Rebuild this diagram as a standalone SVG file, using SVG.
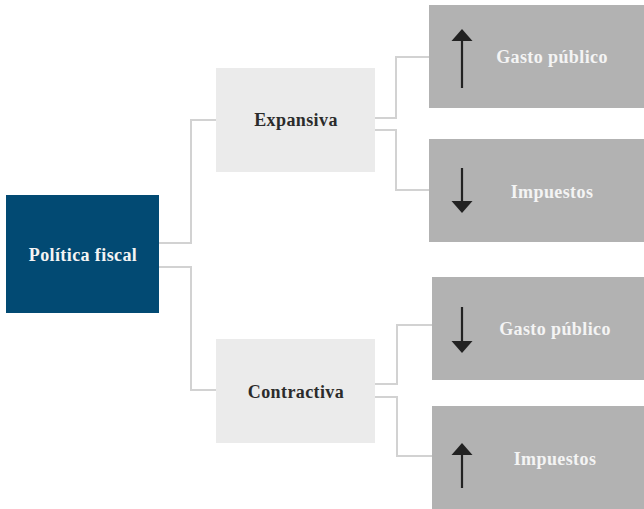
<svg xmlns="http://www.w3.org/2000/svg" width="644" height="509" viewBox="0 0 644 509">
<defs>
<style>
.t{font-family:"Liberation Serif","Times New Roman",serif;font-weight:bold;font-size:18px;letter-spacing:0.4px;text-anchor:middle}
.root{fill:#024a73}
.mid{fill:#ebebeb}
.leaf{fill:#b2b2b2}
.dark{fill:#2b2b2b}
.light{fill:#f4f4f4}
.conn{fill:none;stroke:#d2d2d2;stroke-width:2}
.arr{stroke:#222;stroke-width:2.2;fill:none}
.head{fill:#222}
</style>
</defs>
<rect width="644" height="509" fill="#fff"/>
<g id="connectors">
<polyline class="conn" points="159,243 191,243 191,120 216,120"/>
<polyline class="conn" points="159,267 191,267 191,390 216,390"/>
<polyline class="conn" points="375,118 396,118 396,57 429,57"/>
<polyline class="conn" points="375,130 396,130 396,190 429,190"/>
<polyline class="conn" points="375,384 397,384 397,325 432,325"/>
<polyline class="conn" points="375,397 397,397 397,456 432,456"/>
</g>
<g id="politica-fiscal">
<rect class="root" x="6" y="195" width="153" height="118"/>
<text class="t light" x="83" y="261">Política fiscal</text>
</g>
<g id="expansiva">
<rect class="mid" x="216" y="68" width="159" height="104"/>
<text class="t dark" x="296" y="126">Expansiva</text>
</g>
<g id="contractiva">
<rect class="mid" x="216" y="339" width="159" height="104"/>
<text class="t dark" x="296" y="398">Contractiva</text>
</g>
<g id="exp-gasto">
<rect class="leaf" x="429" y="5" width="215" height="103"/>
<line class="arr" x1="462" y1="88" x2="462" y2="38"/>
<polygon class="head" points="462,29 451.5,41 472.5,41"/>
<text class="t light" x="552" y="63">Gasto público</text>
</g>
<g id="exp-impuestos">
<rect class="leaf" x="429" y="139" width="215" height="103"/>
<line class="arr" x1="462" y1="168" x2="462" y2="204"/>
<polygon class="head" points="462,213 451.5,201 472.5,201"/>
<text class="t light" x="552" y="198">Impuestos</text>
</g>
<g id="con-gasto">
<rect class="leaf" x="432" y="277" width="212" height="103"/>
<line class="arr" x1="462" y1="307" x2="462" y2="344"/>
<polygon class="head" points="462,353 451.5,341 472.5,341"/>
<text class="t light" x="555" y="335">Gasto público</text>
</g>
<g id="con-impuestos">
<rect class="leaf" x="432" y="406" width="212" height="103"/>
<line class="arr" x1="462" y1="488" x2="462" y2="452"/>
<polygon class="head" points="462,443 451.5,455 472.5,455"/>
<text class="t light" x="555" y="465">Impuestos</text>
</g>
</svg>
